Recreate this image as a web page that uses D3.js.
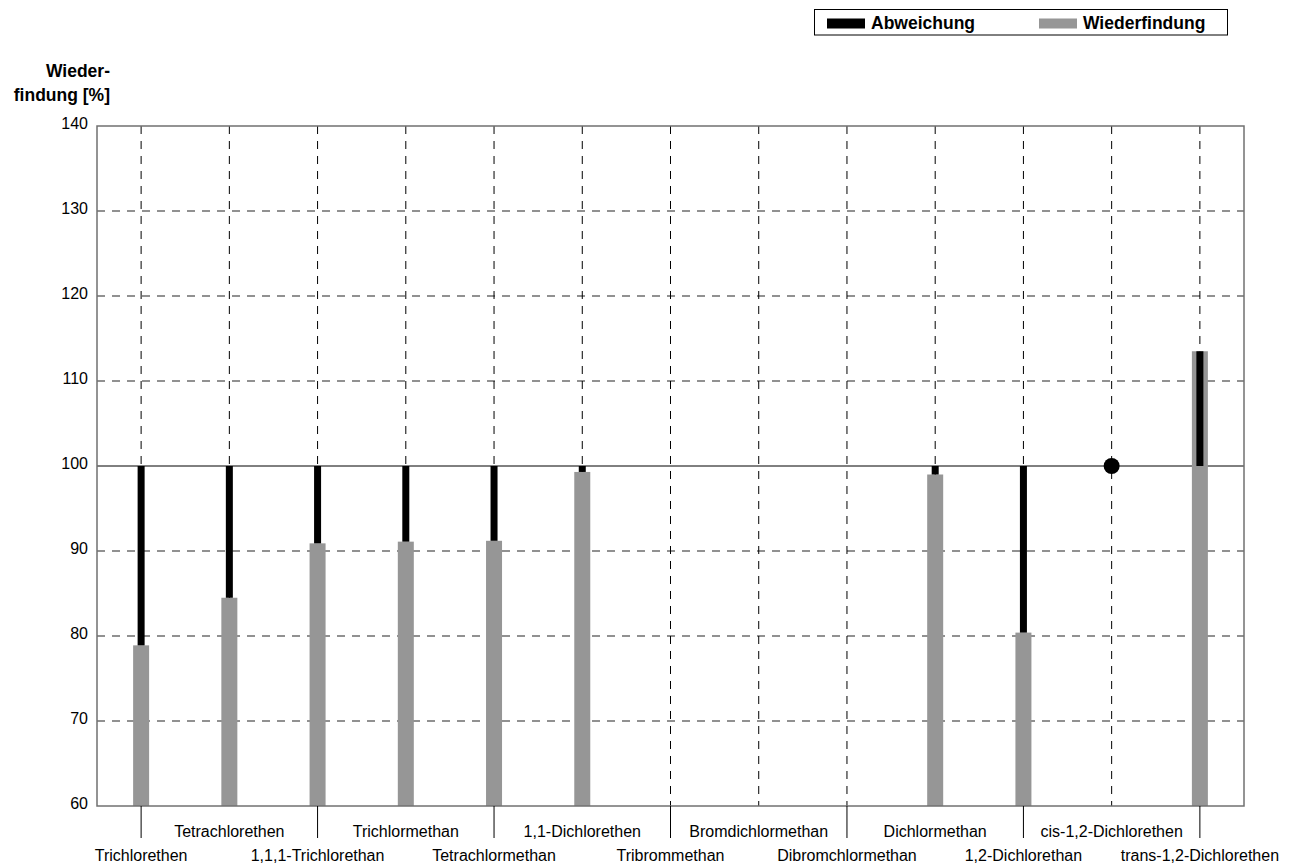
<!DOCTYPE html>
<html>
<head>
<meta charset="utf-8">
<script src="https://cdn.jsdelivr.net/npm/d3@7"></script>
<style>
  html, body { margin: 0; padding: 0; background: #fff; }
  svg { display: block; font-family: "Liberation Sans", Arial, Helvetica, sans-serif; }
</style>
</head>
<body>
<svg id="chart" width="1294" height="865"></svg>
<script>
const categories = [
  "Trichlorethen", "Tetrachlorethen", "1,1,1-Trichlorethan", "Trichlormethan",
  "Tetrachlormethan", "1,1-Dichlorethen", "Tribrommethan", "Bromdichlormethan",
  "Dibromchlormethan", "Dichlormethan", "1,2-Dichlorethan", "cis-1,2-Dichlorethen",
  "trans-1,2-Dichlorethen"
];
// Wiederfindung [%]
const recovery = [78.9, 84.5, 90.9, 91.1, 91.2, 99.3, null, null, null, 99.0, 80.4, null, 113.5];
// single point markers (value exactly at reference)
const pointValues = [null, null, null, null, null, null, null, null, null, null, null, 100, null];
const reference = 100;
const yTicks = [60, 70, 80, 90, 100, 110, 120, 130, 140];
const legendItems = ["Abweichung", "Wiederfindung"];
const titleLines = ["Wieder-", "findung [%]"];

(function () {
const svg = d3.select("#chart");
const pL = 97, pR = 1244, pT = 126, pB = 806;
const GRAY = "#969696";

const x = d3.scaleBand().domain(categories).range([pL, pR]).paddingInner(0).paddingOuter(0);
const y = d3.scaleLinear().domain([60, 140]).range([pB, pT]);
const cx = c => x(c) + x.bandwidth() / 2;

// horizontal grid (dashed gray)
svg.append("g").selectAll("line").data(yTicks.filter(t => t !== 60 && t !== 140 && t !== reference))
  .join("line")
  .attr("x1", pL).attr("x2", pR)
  .attr("y1", d => y(d)).attr("y2", d => y(d))
  .attr("stroke", "#6e6e6e").attr("stroke-width", 1.5).attr("stroke-dasharray", "8,7");

// vertical grid (dashed black)
svg.append("g").selectAll("line").data(categories)
  .join("line")
  .attr("x1", d => cx(d)).attr("x2", d => cx(d))
  .attr("y1", pT).attr("y2", pB)
  .attr("stroke", "#000").attr("stroke-width", 1).attr("stroke-dasharray", "8,7");

// reference line at 100
svg.append("line")
  .attr("x1", pL).attr("x2", pR)
  .attr("y1", y(reference)).attr("y2", y(reference))
  .attr("stroke", "#000").attr("stroke-width", 1);

const data = categories.map((c, i) => ({ c, v: recovery[i], p: pointValues[i] }));

// Wiederfindung bars (gray, from 60)
svg.append("g").selectAll("rect").data(data.filter(d => d.v != null))
  .join("rect")
  .attr("x", d => cx(d.c) - 8).attr("width", 16)
  .attr("y", d => y(d.v)).attr("height", d => y(60) - y(d.v))
  .attr("fill", GRAY);

// Abweichung bars (black, from 100 to value)
svg.append("g").selectAll("rect").data(data.filter(d => d.v != null))
  .join("rect")
  .attr("x", d => cx(d.c) - 3.5).attr("width", 7)
  .attr("y", d => Math.min(y(d.v), y(reference)))
  .attr("height", d => Math.abs(y(d.v) - y(reference)))
  .attr("fill", "#000");

// point markers
svg.append("g").selectAll("circle").data(data.filter(d => d.p != null))
  .join("circle")
  .attr("cx", d => cx(d.c)).attr("cy", d => y(d.p)).attr("r", 8)
  .attr("fill", "#000");

// frame
svg.append("rect")
  .attr("x", pL).attr("y", pT).attr("width", pR - pL).attr("height", pB - pT)
  .attr("fill", "none").attr("stroke", "#707070").attr("stroke-width", 1.5);

// y tick labels
svg.append("g").selectAll("text").data(yTicks)
  .join("text")
  .attr("x", 88).attr("y", d => y(d) + 2.5)
  .attr("text-anchor", "end").attr("font-size", 16).attr("fill", "#000")
  .text(d => d);

// y title
svg.append("g").selectAll("text").data(titleLines)
  .join("text")
  .attr("x", 110).attr("y", (d, i) => 77 + i * 24)
  .attr("text-anchor", "end").attr("font-size", 17.5).attr("font-weight", "bold")
  .text(d => d);

// x ticks at even indices
svg.append("g").selectAll("line").data(categories.filter((d, i) => i % 2 === 0))
  .join("line")
  .attr("x1", d => cx(d)).attr("x2", d => cx(d))
  .attr("y1", pB).attr("y2", pB + 32)
  .attr("stroke", "#000").attr("stroke-width", 1);

// x labels, staggered
svg.append("g").selectAll("text").data(categories)
  .join("text")
  .attr("x", d => cx(d))
  .attr("y", (d, i) => i % 2 === 0 ? 861 : 837)
  .attr("text-anchor", "middle").attr("font-size", 16).attr("fill", "#000")
  .text(d => d);

// legend
const lg = svg.append("g");
lg.append("rect").attr("x", 814.5).attr("y", 9.5).attr("width", 413).attr("height", 25.5)
  .attr("fill", "#fff").attr("stroke", "#000").attr("stroke-width", 1);
const legendColors = ["#000", GRAY];
const legendX = [827, 1039];
legendItems.forEach((name, i) => {
  lg.append("rect").attr("x", legendX[i]).attr("y", 18.5).attr("width", 38).attr("height", 10)
    .attr("fill", legendColors[i]);
  lg.append("text").attr("x", legendX[i] + 44).attr("y", 29)
    .attr("font-size", 17.5).attr("font-weight", "bold").text(name);
});
})();
</script>
</body>
</html>
